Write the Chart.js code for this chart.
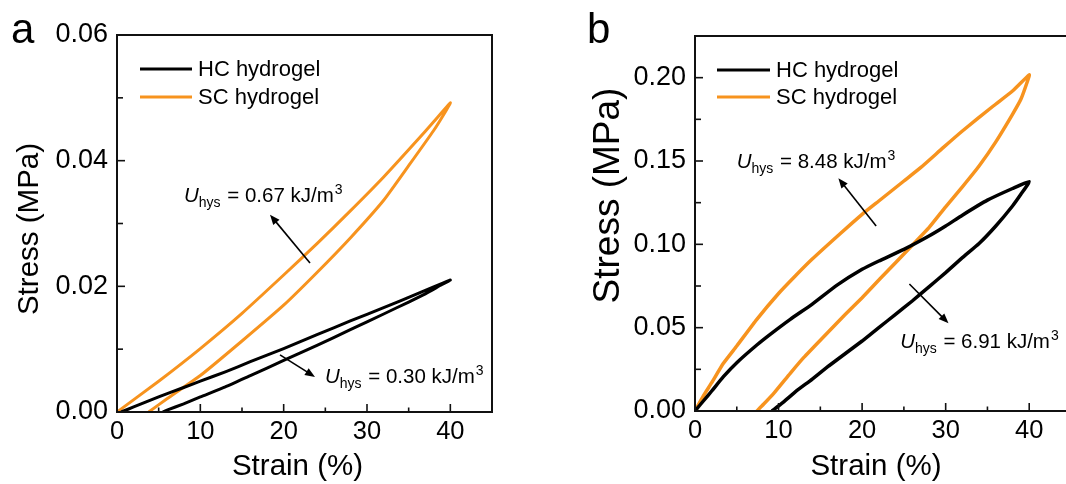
<!DOCTYPE html>
<html><head><meta charset="utf-8">
<script src="https://cdn.jsdelivr.net/npm/chart.js@4.4.1/dist/chart.umd.min.js"></script>
<style>
html,body{margin:0;padding:0;background:#fff;overflow:hidden;width:1066px;height:484px;}
#wa{position:absolute;left:0;top:0;width:560px;height:484px;}
#wb{position:absolute;left:560px;top:0;width:520px;height:484px;}
canvas{display:block;}
</style></head><body>
<div id="wa"><canvas id="ca" width="560" height="484"></canvas></div>
<div id="wb"><canvas id="cb" width="520" height="484"></canvas></div>
<script>
// ---------- data ----------
const seriesNames = ['HC hydrogel', 'SC hydrogel'];

// panel a
const aHC_strain = [0.5, 2, 5, 8, 10, 13, 16, 20, 24, 28, 32, 36, 38, 40, 39, 37, 35, 32, 28, 24, 20, 16, 13, 10, 8, 6, 5.5];
const aHC_stress = [0, 0.0008, 0.0024, 0.0039, 0.0049, 0.0064, 0.0080, 0.0101, 0.0123, 0.0145, 0.0166, 0.0188, 0.0199, 0.0210, 0.0203, 0.0188, 0.0175, 0.0156, 0.0131, 0.0106, 0.0082, 0.0058, 0.0040, 0.0024, 0.0013, 0.0003, 0];
const aSC_strain = [0, 5, 10, 15, 20, 24, 28, 32, 36, 38, 40, 39.5, 38, 35, 32, 28, 24, 20, 15, 10, 6, 3.8];
const aSC_stress = [0, 0.0049, 0.0101, 0.0157, 0.0218, 0.0268, 0.0320, 0.0374, 0.0432, 0.0462, 0.0492, 0.0480, 0.0448, 0.0392, 0.0337, 0.0277, 0.0222, 0.0170, 0.0113, 0.0058, 0.0021, 0];
const aXTicks = [0, 10, 20, 30, 40];
const aXTickLabels = ['0', '10', '20', '30', '40'];
const aYTicks = [0, 0.02, 0.04, 0.06];
const aYTickLabels = ['0.00', '0.02', '0.04', '0.06'];
const aHysValues = ['0.67', '0.30'];

// panel b
const bHC_strain = [0, 1, 2, 3.4, 5, 7.4, 9, 11.4, 14, 17, 20, 22, 25, 28, 30, 32, 35, 38, 40, 39, 38, 36, 34, 32, 30, 28, 26, 24, 22, 20, 18, 16, 14, 12, 10.5, 9.2];
const bHC_stress = [0, 0.006, 0.012, 0.0206, 0.029, 0.0396, 0.046, 0.055, 0.064, 0.0755, 0.085, 0.090, 0.097, 0.105, 0.111, 0.1175, 0.1265, 0.1335, 0.1376, 0.130, 0.123, 0.111, 0.1005, 0.092, 0.083, 0.0745, 0.066, 0.058, 0.050, 0.042, 0.0345, 0.027, 0.019, 0.0115, 0.005, 0];
const bSC_strain = [0, 1, 2, 3.4, 5, 7.4, 10, 12, 14, 17.4, 20, 22, 25, 27, 29.7, 32, 35.7, 38, 40, 39.8, 39, 38, 36, 34, 32, 30, 28, 26, 24, 22.2, 20, 18, 15.4, 13, 11.4, 9.5, 8.2, 7.4];
const bSC_stress = [0, 0.009, 0.017, 0.0286, 0.039, 0.055, 0.0705, 0.081, 0.091, 0.1065, 0.118, 0.126, 0.138, 0.146, 0.158, 0.168, 0.183, 0.192, 0.2017, 0.198, 0.187, 0.178, 0.1615, 0.147, 0.1345, 0.1225, 0.110, 0.0995, 0.089, 0.0796, 0.068, 0.058, 0.0446, 0.032, 0.0226, 0.011, 0.004, 0];
const bXTicks = [0, 10, 20, 30, 40];
const bXTickLabels = ['0', '10', '20', '30', '40'];
const bYTicks = [0, 0.05, 0.10, 0.15, 0.20];
const bYTickLabels = ['0.00', '0.05', '0.10', '0.15', '0.20'];
const bHysValues = ['8.48', '6.91'];

// ---------- rendering ----------
const FONT = "'Liberation Sans', Arial, Helvetica, sans-serif";
const COLORS = ['#000000', '#F7931E'];

function toXY(xs, ys) { return xs.map((x, i) => ({x: x, y: ys[i]})); }

function hysLabel(ctx, x, y, val) {
  ctx.textAlign = 'left'; ctx.textBaseline = 'alphabetic'; ctx.fillStyle = '#000';
  ctx.font = 'italic 20.5px ' + FONT; ctx.fillText('U', x, y); x += ctx.measureText('U').width;
  ctx.font = '14px ' + FONT; ctx.fillText('hys', x, y + 5); x += ctx.measureText('hys').width + 1;
  const s = ' = ' + val + ' kJ/m';
  ctx.font = '20.5px ' + FONT; ctx.fillText(s, x, y); x += ctx.measureText(s).width;
  ctx.font = '14px ' + FONT; ctx.fillText('3', x + 1, y - 8);
}

function arrow(ctx, x1, y1, x2, y2) {
  const ang = Math.atan2(y2 - y1, x2 - x1), L = 10, W = 4;
  ctx.strokeStyle = '#000'; ctx.fillStyle = '#000'; ctx.lineWidth = 1.6;
  ctx.beginPath(); ctx.moveTo(x1, y1); ctx.lineTo(x2 - Math.cos(ang) * L * 0.8, y2 - Math.sin(ang) * L * 0.8); ctx.stroke();
  ctx.beginPath();
  ctx.moveTo(x2, y2);
  ctx.lineTo(x2 - Math.cos(ang) * L + Math.sin(ang) * W, y2 - Math.sin(ang) * L - Math.cos(ang) * W);
  ctx.lineTo(x2 - Math.cos(ang) * L - Math.sin(ang) * W, y2 - Math.sin(ang) * L + Math.cos(ang) * W);
  ctx.closePath(); ctx.fill();
}

function decor(opt) {
  return {
    id: 'decor',
    afterDraw(chart) {
      const ctx = chart.ctx, a = chart.chartArea, xs = chart.scales.x, ys = chart.scales.y;
      ctx.save();
      // frame
      ctx.strokeStyle = '#111'; ctx.lineWidth = 2;
      ctx.strokeRect(a.left, a.top, a.right - a.left, a.bottom - a.top);
      // inward ticks
      ctx.lineWidth = 1.6;
      const seg = (x1, y1, x2, y2) => { ctx.beginPath(); ctx.moveTo(x1, y1); ctx.lineTo(x2, y2); ctx.stroke(); };
      opt.xMajor.forEach(v => { const p = xs.getPixelForValue(v); seg(p, a.bottom, p, a.bottom - 8); });
      opt.xMinor.forEach(v => { const p = xs.getPixelForValue(v); seg(p, a.bottom, p, a.bottom - 4.5); });
      opt.yMajor.forEach(v => { const p = ys.getPixelForValue(v); seg(a.left, p, a.left + 8, p); });
      opt.yMinor.forEach(v => { const p = ys.getPixelForValue(v); seg(a.left, p, a.left + 6, p); });
      // legend
      chart.data.datasets.forEach((ds, i) => {
        const y = opt.legY[i];
        ctx.strokeStyle = ds.borderColor; ctx.lineWidth = 3;
        seg(opt.legX0, y, opt.legX1, y);
        ctx.fillStyle = '#000'; ctx.font = '22px ' + FONT; ctx.textAlign = 'left'; ctx.textBaseline = 'middle';
        ctx.fillText(ds.label, opt.legTX, y + 1);
      });
      // annotations
      opt.labels.forEach(l => hysLabel(ctx, xs.getPixelForValue(l.x), ys.getPixelForValue(l.y), l.val));
      opt.arrows.forEach(r => arrow(ctx, xs.getPixelForValue(r.x1), ys.getPixelForValue(r.y1), xs.getPixelForValue(r.x2), ys.getPixelForValue(r.y2)));
      // axis titles
      ctx.fillStyle = '#000'; ctx.textAlign = 'center'; ctx.textBaseline = 'middle';
      ctx.font = opt.xTitleSize + 'px ' + FONT;
      ctx.fillText('Strain (%)', opt.xTitleX, opt.xTitleY);
      ctx.save();
      ctx.translate(opt.yTitleX, opt.yTitleY); ctx.rotate(-Math.PI / 2);
      ctx.font = opt.yTitleSize + 'px ' + FONT;
      ctx.fillText('Stress (MPa)', 0, 0);
      ctx.restore();
      // panel letter
      ctx.font = '42px ' + FONT; ctx.textAlign = 'left'; ctx.textBaseline = 'alphabetic';
      ctx.fillText(opt.letter, opt.letterX, opt.letterY);
      ctx.restore();
    }
  };
}

function makeChart(id, d, opt) {
  return new Chart(document.getElementById(id), {
    type: 'scatter',
    data: {
      datasets: [
        {label: seriesNames[0], data: toXY(d.hcX, d.hcY), borderColor: COLORS[0], backgroundColor: COLORS[0], showLine: true, borderWidth: opt.lw, pointRadius: 0, tension: 0.15, fill: false},
        {label: seriesNames[1], data: toXY(d.scX, d.scY), borderColor: COLORS[1], backgroundColor: COLORS[1], showLine: true, borderWidth: opt.lw, pointRadius: 0, tension: 0.15, fill: false}
      ]
    },
    options: {
      responsive: false, animation: false, devicePixelRatio: 1,
      layout: {padding: {top: opt.padTop, right: opt.padRight, left: 0, bottom: 0}},
      plugins: {legend: {display: false}, tooltip: {enabled: false}, title: {display: false}},
      scales: {
        x: {
          type: 'linear', min: 0, max: 45,
          afterBuildTicks: s => { s.ticks = d.xTicks.map(v => ({value: v})); },
          afterFit: s => { s.height = opt.xAxisH; },
          grid: {display: false, drawTicks: false}, border: {display: false},
          ticks: {font: {family: FONT, size: 25.5}, color: '#000', padding: 5, maxRotation: 0, autoSkip: false,
                  callback: (v, i) => d.xLabels[i]}
        },
        y: {
          type: 'linear', min: 0, max: opt.ymax,
          afterBuildTicks: s => { s.ticks = d.yTicks.map(v => ({value: v})); },
          afterFit: s => { s.width = opt.yAxisW; },
          grid: {display: false, drawTicks: false}, border: {display: false},
          ticks: {font: {family: FONT, size: 27}, color: '#000', padding: 9, autoSkip: false,
                  callback: (v, i) => d.yLabels[i]}
        }
      }
    },
    plugins: [decor(opt)]
  });
}

makeChart('ca',
  {hcX: aHC_strain, hcY: aHC_stress, scX: aSC_strain, scY: aSC_stress, xTicks: aXTicks, xLabels: aXTickLabels, yTicks: aYTicks, yLabels: aYTickLabels},
  {padTop: 35, padRight: 68, xAxisH: 72, yAxisW: 117, ymax: 0.06, lw: 3,
   xMajor: [10, 20, 30, 40], xMinor: [5, 15, 25, 35], yMajor: [0.02, 0.04], yMinor: [0.01, 0.03, 0.05],
   legX0: 140, legX1: 192, legY: [69, 97], legTX: 198,
   labels: [{x: 8.04, y: 0.0335, val: aHysValues[0]}, {x: 24.96, y: 0.00462, val: aHysValues[1]}],
   arrows: [{x1: 23.16, y1: 0.0237, x2: 18.36, y2: 0.0314}, {x1: 19.56, y1: 0.00908, x2: 23.76, y2: 0.00558}],
   xTitleSize: 29.5, xTitleX: 297.5, xTitleY: 467, yTitleSize: 29.5, yTitleX: 30, yTitleY: 229,
   letter: 'a', letterX: 11, letterY: 43});

makeChart('cb',
  {hcX: bHC_strain, hcY: bHC_stress, scX: bSC_strain, scY: bSC_stress, xTicks: bXTicks, xLabels: bXTickLabels, yTicks: bYTicks, yLabels: bYTickLabels},
  {padTop: 36, padRight: 9, xAxisH: 73, yAxisW: 135, ymax: 0.225, lw: 3.5,
   xMajor: [10, 20, 30, 40], xMinor: [5, 15, 25, 35], yMajor: [0.05, 0.10, 0.15, 0.20], yMinor: [0.025, 0.075, 0.125, 0.175],
   legX0: 157, legX1: 210, legY: [70, 97], legTX: 216,
   labels: [{x: 4.99, y: 0.1459, val: bHysValues[0]}, {x: 24.55, y: 0.0378, val: bHysValues[1]}],
   arrows: [{x1: 21.68, y1: 0.111, x2: 17.16, y2: 0.1397}, {x1: 25.66, y1: 0.0762, x2: 30.34, y2: 0.0526}],
   xTitleSize: 29.5, xTitleX: 316, xTitleY: 467, yTitleSize: 37, yTitleX: 48.5, yTitleY: 195.5,
   letter: 'b', letterX: 27, letterY: 43});
</script>
</body></html>
